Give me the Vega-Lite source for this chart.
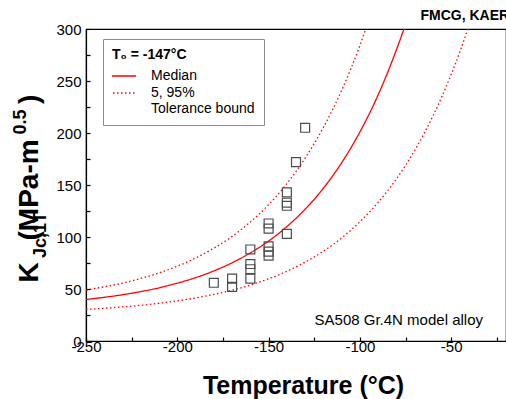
{
  "$schema": "https://vega.github.io/schema/vega-lite/v6.json",
  "width": 420,
  "height": 312,
  "autosize": {"type": "none"},
  "padding": {"left": 86, "top": 29, "right": 0, "bottom": 58},
  "config": {
    "font": "Liberation Sans",
    "view": {"stroke": "#000", "strokeWidth": 1.2},
    "axis": {"domainColor": "#000", "domainWidth": 1.2, "tickColor": "#000", "tickWidth": 1.2, "labelColor": "#000", "titleColor": "#000", "grid": false, "labelFont": "Liberation Sans", "titleFont": "Liberation Sans"}
  },
  "title": {"text": "FMCG, KAERI", "anchor": "end", "frame": "group", "dx": 7, "offset": -12, "fontSize": 14, "fontWeight": "bold", "font": "Liberation Sans", "color": "#000", "baseline": "alphabetic"},
  "datasets": {
    "curves": [
      {"series": "Median", "kind": "Median", "T": -250, "K": 39.9},
      {"series": "Median", "kind": "Median", "T": -240, "K": 42.0},
      {"series": "Median", "kind": "Median", "T": -230, "K": 44.5},
      {"series": "Median", "kind": "Median", "T": -220, "K": 47.5},
      {"series": "Median", "kind": "Median", "T": -210, "K": 51.1},
      {"series": "Median", "kind": "Median", "T": -200, "K": 55.6},
      {"series": "Median", "kind": "Median", "T": -190, "K": 60.9},
      {"series": "Median", "kind": "Median", "T": -180, "K": 67.4},
      {"series": "Median", "kind": "Median", "T": -170, "K": 75.2},
      {"series": "Median", "kind": "Median", "T": -160, "K": 84.7},
      {"series": "Median", "kind": "Median", "T": -150, "K": 96.1},
      {"series": "Median", "kind": "Median", "T": -140, "K": 110.0},
      {"series": "Median", "kind": "Median", "T": -130, "K": 126.7},
      {"series": "Median", "kind": "Median", "T": -120, "K": 146.9},
      {"series": "Median", "kind": "Median", "T": -110, "K": 171.4},
      {"series": "Median", "kind": "Median", "T": -100, "K": 201.0},
      {"series": "Median", "kind": "Median", "T": -90, "K": 236.7},
      {"series": "Median", "kind": "Median", "T": -85, "K": 257.4},
      {"series": "Median", "kind": "Median", "T": -80, "K": 280.0},
      {"series": "Median", "kind": "Median", "T": -75.9, "K": 300.0},
      {"series": "Lower", "kind": "5, 95%", "T": -250, "K": 30.4},
      {"series": "Lower", "kind": "5, 95%", "T": -240, "K": 31.5},
      {"series": "Lower", "kind": "5, 95%", "T": -230, "K": 32.8},
      {"series": "Lower", "kind": "5, 95%", "T": -220, "K": 34.3},
      {"series": "Lower", "kind": "5, 95%", "T": -210, "K": 36.3},
      {"series": "Lower", "kind": "5, 95%", "T": -200, "K": 38.6},
      {"series": "Lower", "kind": "5, 95%", "T": -190, "K": 41.4},
      {"series": "Lower", "kind": "5, 95%", "T": -180, "K": 44.8},
      {"series": "Lower", "kind": "5, 95%", "T": -170, "K": 48.8},
      {"series": "Lower", "kind": "5, 95%", "T": -160, "K": 53.8},
      {"series": "Lower", "kind": "5, 95%", "T": -150, "K": 59.8},
      {"series": "Lower", "kind": "5, 95%", "T": -140, "K": 67.0},
      {"series": "Lower", "kind": "5, 95%", "T": -130, "K": 75.8},
      {"series": "Lower", "kind": "5, 95%", "T": -120, "K": 86.3},
      {"series": "Lower", "kind": "5, 95%", "T": -110, "K": 99.1},
      {"series": "Lower", "kind": "5, 95%", "T": -100, "K": 114.6},
      {"series": "Lower", "kind": "5, 95%", "T": -90, "K": 133.3},
      {"series": "Lower", "kind": "5, 95%", "T": -80, "K": 155.9},
      {"series": "Lower", "kind": "5, 95%", "T": -70, "K": 183.3},
      {"series": "Lower", "kind": "5, 95%", "T": -60, "K": 216.4},
      {"series": "Lower", "kind": "5, 95%", "T": -50, "K": 256.4},
      {"series": "Lower", "kind": "5, 95%", "T": -45, "K": 279.4},
      {"series": "Lower", "kind": "5, 95%", "T": -40.9, "K": 300.0},
      {"series": "Upper", "kind": "5, 95%", "T": -250, "K": 49.0},
      {"series": "Upper", "kind": "5, 95%", "T": -240, "K": 52.1},
      {"series": "Upper", "kind": "5, 95%", "T": -230, "K": 55.7},
      {"series": "Upper", "kind": "5, 95%", "T": -220, "K": 60.1},
      {"series": "Upper", "kind": "5, 95%", "T": -210, "K": 65.5},
      {"series": "Upper", "kind": "5, 95%", "T": -200, "K": 71.9},
      {"series": "Upper", "kind": "5, 95%", "T": -190, "K": 79.8},
      {"series": "Upper", "kind": "5, 95%", "T": -180, "K": 89.2},
      {"series": "Upper", "kind": "5, 95%", "T": -170, "K": 100.6},
      {"series": "Upper", "kind": "5, 95%", "T": -160, "K": 114.4},
      {"series": "Upper", "kind": "5, 95%", "T": -150, "K": 131.1},
      {"series": "Upper", "kind": "5, 95%", "T": -140, "K": 151.3},
      {"series": "Upper", "kind": "5, 95%", "T": -130, "K": 175.8},
      {"series": "Upper", "kind": "5, 95%", "T": -120, "K": 205.3},
      {"series": "Upper", "kind": "5, 95%", "T": -110, "K": 241.0},
      {"series": "Upper", "kind": "5, 95%", "T": -105, "K": 261.6},
      {"series": "Upper", "kind": "5, 95%", "T": -100, "K": 284.2},
      {"series": "Upper", "kind": "5, 95%", "T": -96.8, "K": 300.0}
    ],
    "tests": [
      {"T": -180, "K": 56},
      {"T": -170, "K": 60},
      {"T": -170, "K": 52},
      {"T": -160, "K": 88},
      {"T": -160, "K": 74},
      {"T": -160, "K": 69},
      {"T": -160, "K": 60},
      {"T": -150, "K": 113},
      {"T": -150, "K": 108},
      {"T": -150, "K": 91},
      {"T": -150, "K": 86},
      {"T": -150, "K": 82},
      {"T": -140, "K": 143},
      {"T": -140, "K": 133},
      {"T": -140, "K": 130},
      {"T": -140, "K": 103},
      {"T": -135, "K": 172},
      {"T": -130, "K": 205}
    ],
    "notes": [
      {"T": -32.6, "K": 15.4, "label": "SA508 Gr.4N model alloy"}
    ]
  },
  "layer": [
    {
      "data": {"name": "curves"},
      "transform": [{"filter": "datum.series === 'Median'"}],
      "mark": {"type": "line", "color": "#ff0000", "strokeWidth": 1.3, "interpolate": "monotone", "clip": true},
      "encoding": {
        "x": {"field": "T", "type": "quantitative", "scale": {"domain": [-250, -20], "nice": false, "zero": false},
          "axis": {"values": [-250, -225, -200, -175, -150, -125, -100, -75, -50, -25], "labelExpr": "datum.value % 50 === 0 ? '' + datum.value : ''", "labelFlush": false, "labelOverlap": false, "labelBound": false, "labelFontSize": 15, "labelPadding": 2, "tickSize": -4, "encode": {"ticks": {"y2": {"value": {"expr": "datum.value % 50 === 0 ? -5 : -3"}}}}, "title": "Temperature (°C)", "titleFontSize": 25, "titleFontWeight": "bold", "titleX": 217, "titleY": 52, "titleAlign": "center", "titleBaseline": "alphabetic"}},
        "y": {"field": "K", "type": "quantitative", "scale": {"domain": [0, 300], "nice": false, "zero": false},
          "axis": {"orient": "left", "values": [0, 25, 50, 75, 100, 125, 150, 175, 200, 225, 250, 275, 300], "labelExpr": "datum.value % 50 === 0 ? '' + datum.value : ''", "labelFlush": false, "labelOverlap": false, "labelBound": false, "labelFontSize": 15, "labelPadding": 9, "tickSize": -4, "encode": {"ticks": {"x2": {"value": {"expr": "datum.value % 50 === 0 ? 5 : 3"}}}}, "title": "K", "titleFontSize": 28, "titleFontWeight": "bold", "titleAngle": -90, "titleAlign": "left", "titleBaseline": "alphabetic", "titleX": -49, "titleY": 253}},
        "strokeDash": {"field": "kind", "type": "nominal", "scale": {"domain": ["Median", "5, 95%"], "range": [[1, 0], [1.5, 2.5]]},
          "legend": {"orient": "none", "legendX": 17, "legendY": 10, "title": "T₀ = -147°C", "titleFontSize": 14, "titleFontWeight": "bold", "titleColor": "#000", "titleFont": "Liberation Sans", "titlePadding": 6, "labelFontSize": 14, "labelColor": "#000", "labelFont": "Liberation Sans", "labelOffset": 14, "labelLimit": 300, "clipHeight": 16, "symbolType": "stroke", "symbolSize": 961, "symbolOffset": -8, "symbolStrokeWidth": 1.3, "symbolStrokeColor": "#ff0000", "strokeColor": "#8c8c8c", "fillColor": "#ffffff", "padding": 9, "rowPadding": 1, "labelExpr": "datum.label === '5, 95%' ? ['5, 95%', 'Tolerance bound'] : datum.label"}}
      }
    },
    {
      "data": {"name": "curves"},
      "transform": [{"filter": "datum.series === 'Lower'"}],
      "mark": {"type": "line", "color": "#ff0000", "strokeWidth": 1.3, "interpolate": "monotone", "clip": true},
      "encoding": {
        "x": {"field": "T", "type": "quantitative", "scale": {"domain": [-250, -20], "nice": false, "zero": false}},
        "y": {"field": "K", "type": "quantitative", "scale": {"domain": [0, 300], "nice": false, "zero": false},
          "axis": {"orient": "left", "labels": false, "ticks": false, "domain": false, "title": "Jc,1T", "titleFontSize": 18, "titleFontWeight": "bold", "titleAngle": -90, "titleAlign": "left", "titleBaseline": "alphabetic", "titleX": -41, "titleY": 228.5}},
        "strokeDash": {"field": "kind", "type": "nominal", "scale": {"domain": ["Median", "5, 95%"], "range": [[1, 0], [1.5, 2.5]]}}
      }
    },
    {
      "data": {"name": "curves"},
      "transform": [{"filter": "datum.series === 'Upper'"}],
      "mark": {"type": "line", "color": "#ff0000", "strokeWidth": 1.3, "interpolate": "monotone", "clip": true},
      "encoding": {
        "x": {"field": "T", "type": "quantitative", "scale": {"domain": [-250, -20], "nice": false, "zero": false}},
        "y": {"field": "K", "type": "quantitative", "scale": {"domain": [0, 300], "nice": false, "zero": false},
          "axis": {"orient": "left", "labels": false, "ticks": false, "domain": false, "title": "(MPa-m", "titleFontSize": 28, "titleFontWeight": "bold", "titleAngle": -90, "titleAlign": "left", "titleBaseline": "alphabetic", "titleX": -49, "titleY": 211}},
        "strokeDash": {"field": "kind", "type": "nominal", "scale": {"domain": ["Median", "5, 95%"], "range": [[1, 0], [1.5, 2.5]]}}
      }
    },
    {
      "data": {"name": "tests"},
      "mark": {"type": "point", "shape": "square", "filled": false, "color": "#4d4d4d", "size": 80, "strokeWidth": 1.2, "opacity": 1},
      "encoding": {
        "x": {"field": "T", "type": "quantitative", "scale": {"domain": [-250, -20], "nice": false, "zero": false}},
        "y": {"field": "K", "type": "quantitative", "scale": {"domain": [0, 300], "nice": false, "zero": false},
          "axis": {"orient": "left", "labels": false, "ticks": false, "domain": false, "title": "0.5", "titleFontSize": 18, "titleFontWeight": "bold", "titleAngle": -90, "titleAlign": "left", "titleBaseline": "alphabetic", "titleX": -61, "titleY": 105}}
      }
    },
    {
      "data": {"name": "notes"},
      "mark": {"type": "text", "align": "right", "baseline": "alphabetic", "fontSize": 15, "color": "#000", "font": "Liberation Sans"},
      "encoding": {
        "x": {"field": "T", "type": "quantitative", "scale": {"domain": [-250, -20], "nice": false, "zero": false}},
        "y": {"field": "K", "type": "quantitative", "scale": {"domain": [0, 300], "nice": false, "zero": false},
          "axis": {"orient": "left", "labels": false, "ticks": false, "domain": false, "title": ")", "titleFontSize": 28, "titleFontWeight": "bold", "titleAngle": -90, "titleAlign": "left", "titleBaseline": "alphabetic", "titleX": -49, "titleY": 74.5}},
        "text": {"field": "label", "type": "nominal"}
      }
    }
  ],
  "resolve": {"axis": {"y": "independent"}}
}
